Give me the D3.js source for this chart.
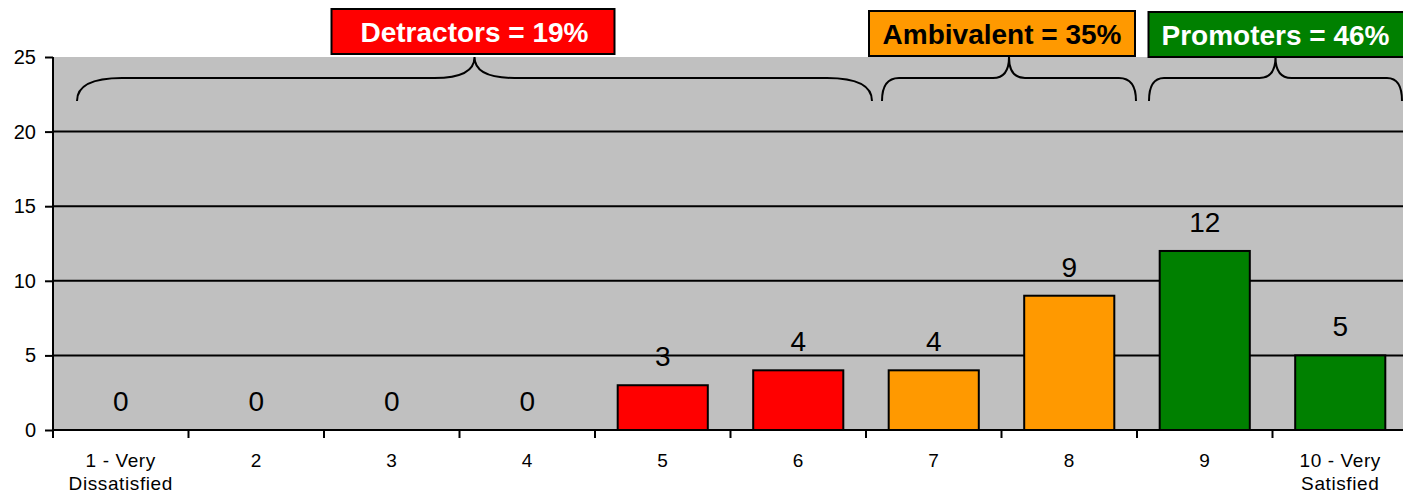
<!DOCTYPE html>
<html><head><meta charset="utf-8">
<script src="https://cdn.jsdelivr.net/npm/d3@7"></script>
<style>body{margin:0;background:#fff;overflow:hidden}svg{display:block}text{font-family:"Liberation Sans",Arial,sans-serif}</style>
</head><body>
<svg id="c" width="1403" height="497"></svg>
<script>
const categories = ["1 - Very\nDissatisfied","2","3","4","5","6","7","8","9","10 - Very\nSatisfied"];
const values = [0,0,0,0,3,4,4,9,12,5];
const groupOf = ["det","det","det","det","det","det","amb","amb","pro","pro"];
const yTicks = [0,5,10,15,20,25];
const groups = ["det","amb","pro"];
const groupLabels = ["Detractors = 19%","Ambivalent = 35%","Promoters = 46%"];
const groupFirst = [0,6,8];
const groupLast = [5,7,9];

const colors = {det:"#FF0000", amb:"#FF9900", pro:"#008000"};
const textColors = {det:"#FFFFFF", amb:"#000000", pro:"#FFFFFF"};

const svg = d3.select("#c");
const x = d3.scaleBand().domain(categories).range([53,1408]).paddingInner(0.335).paddingOuter(0.1675);
const y = d3.scaleLinear().domain([0,25]).range([430,57]);
const x0 = x.range()[0], step = x.step();

// plot background
svg.append("rect").attr("x",x0).attr("y",y(25)).attr("width",x.range()[1]-x0).attr("height",y(0)-y(25)).attr("fill","#C0C0C0");

// gridlines
svg.selectAll("line.grid").data(yTicks.filter(t=>t>0&&t<25)).join("line")
  .attr("x1",x0).attr("x2",x.range()[1]).attr("y1",d=>y(d)).attr("y2",d=>y(d))
  .attr("stroke","#000").attr("stroke-width",2);

// y axis
const yAxis = d3.axisLeft(y).tickValues(yTicks).tickSize(8).tickPadding(9);
const gy = svg.append("g").attr("transform",`translate(${x0},0)`).call(yAxis);
gy.select(".domain").attr("stroke","#000").attr("stroke-width",2).attr("d",`M0,${y(25)}V${y(0)}`);
gy.selectAll(".tick line").attr("stroke","#000").attr("stroke-width",2);
gy.selectAll(".tick text").attr("font-size",20).attr("fill","#000").attr("font-family","Liberation Sans, Arial");

// x axis line + ticks at boundaries
svg.append("line").attr("x1",x0).attr("x2",x.range()[1]).attr("y1",y(0)).attr("y2",y(0)).attr("stroke","#000").attr("stroke-width",2);
svg.selectAll("line.xt").data(d3.range(categories.length+1)).join("line")
  .attr("x1",i=>x0+i*step).attr("x2",i=>x0+i*step).attr("y1",y(0)).attr("y2",y(0)+8)
  .attr("stroke","#000").attr("stroke-width",2);

// category labels
const cl = svg.selectAll("text.cat").data(categories).join("text")
  .attr("text-anchor","middle").attr("font-size",19).attr("letter-spacing","0.6px").attr("fill","#000")
  .attr("x",d=>x(d)+x.bandwidth()/2).attr("y",467);
cl.each(function(d){
  const lines = d.split("\n");
  d3.select(this).selectAll("tspan").data(lines).join("tspan")
    .attr("x",x(d)+x.bandwidth()/2).attr("dy",(l,i)=>i===0?0:23).text(l=>l);
});

// bars
svg.selectAll("rect.bar").data(values.map((v,i)=>({v,c:categories[i],g:groupOf[i]})).filter(d=>d.v>0)).join("rect")
  .attr("x",d=>x(d.c)).attr("y",d=>y(d.v)).attr("width",x.bandwidth()).attr("height",d=>y(0)-y(d.v))
  .attr("fill",d=>colors[d.g]).attr("stroke","#000").attr("stroke-width",2);

// value labels
svg.selectAll("text.val").data(values.map((v,i)=>({v,c:categories[i]}))).join("text")
  .attr("text-anchor","middle").attr("font-size",28).attr("fill","#000")
  .attr("x",d=>x(d.c)+x.bandwidth()/2).attr("y",d=>y(d.v)-19).text(d=>d.v);

// braces
const yEnd = 101, yMid = 78, yTip = y(25);
const braceInset = [24,16,12], braceOut = [6,-1,-6], endR = [45,17,15], tipW = [40,16,16];
const boxL = [143,140,127], boxR = [140,126,140], boxTop = [9,11,12];
groups.forEach((g,k)=>{
  const a = x0 + groupFirst[k]*step + braceInset[k];
  const b = x0 + (groupLast[k]+1)*step + braceOut[k];
  const m = (a+b)/2, r = endR[k], t = tipW[k];
  const p = `M${a},${yEnd} Q${a},${yMid} ${a+r},${yMid} L${m-t},${yMid} Q${m},${yMid} ${m},${yTip} Q${m},${yMid} ${m+t},${yMid} L${b-r},${yMid} Q${b},${yMid} ${b},${yEnd}`;
  svg.append("path").attr("d",p).attr("fill","none").attr("stroke","#000").attr("stroke-width",2);
  const bx = m - boxL[k];
  const by = boxTop[k], bh = 45;
  svg.append("rect").attr("x",bx).attr("y",by).attr("width",boxL[k]+boxR[k]).attr("height",bh)
    .attr("fill",colors[g]).attr("stroke","#000").attr("stroke-width",2);
  svg.append("text").attr("x",k===1 ? m-7 : m).attr("y",by+bh/2+10).attr("text-anchor","middle")
    .attr("font-size",28).attr("font-weight","bold").attr("fill",textColors[g]).text(groupLabels[k]);
});
</script>
</body></html>
